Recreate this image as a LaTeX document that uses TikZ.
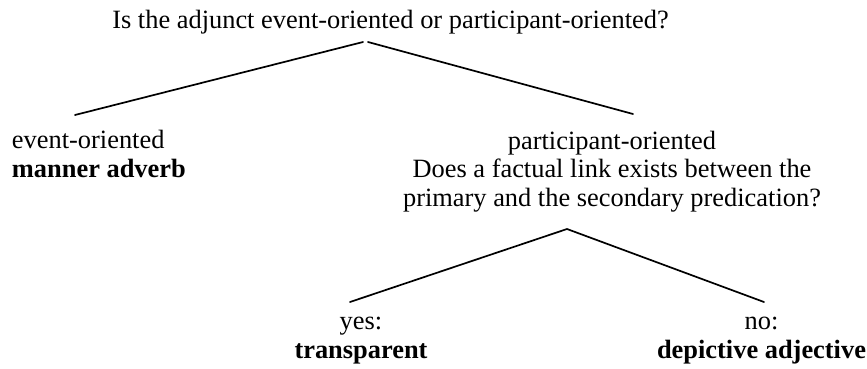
\documentclass[tikz,border=0pt]{standalone}
\usepackage{fontspec}
\setmainfont{Liberation Serif}
\begin{document}
\begin{tikzpicture}[x=1pt,y=-1pt,
  txt/.style={inner sep=0pt, outer sep=0pt, anchor=base, align=center, font=\fontsize{26.4}{28.5}\selectfont},
  txtl/.style={txt, anchor=base west, align=left},
  branch/.style={line width=1.7pt, line cap=round}]
\useasboundingbox[fill=white] (0,0) rectangle (867,369);
% texts (anchor = baseline of last line)
\node[txt] (q1) at (390.5,28.5) {Is the adjunct event-oriented or participant-oriented?};
\node[txtl] (ev) at (12,177) {event-oriented\\\textbf{manner adverb}};
\node[txt] (po) at (612,206) {participant-oriented\\Does a factual link exists between the\\primary and the secondary predication?};
\node[txt] (yes) at (361,358) {yes:\\\textbf{transparent}};
\node[txt] (no) at (761.5,358) {no:\\\textbf{depictive adjective}};
% branch points
\coordinate (a1l) at (363,42);
\coordinate (a1r) at (368,42);
\coordinate (e1) at (75,115);
\coordinate (e2) at (633,114);
\coordinate (a2) at (567,229);
\coordinate (e3) at (350,302);
\coordinate (e4) at (764,302);
\draw[branch] (a1l) -- (e1);
\draw[branch] (a1r) -- (e2);
\draw[branch] (e3) -- (a2) -- (e4);
\end{tikzpicture}
\end{document}
